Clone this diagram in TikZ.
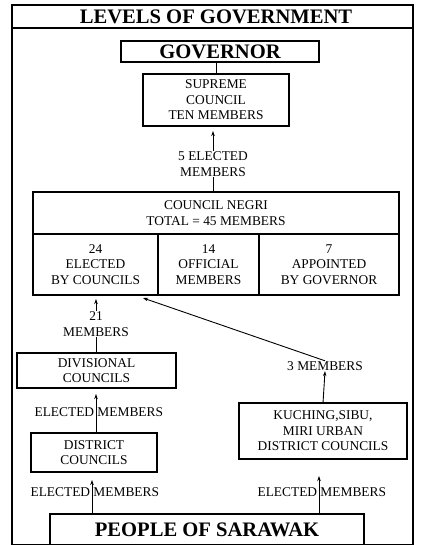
\documentclass[tikz,border=0pt]{standalone}
\usepackage{fontspec}
\setmainfont{Liberation Serif}
\usepackage{tikz}
\usetikzlibrary{arrows.meta,positioning}

\begin{document}
\begin{tikzpicture}[
    x=1pt,y=-1pt,
    >={Stealth[length=5pt,width=3.5pt]},
    every node/.style={font=\fontsize{13.4}{15.5}\selectfont},
    box/.style ={rectangle,draw,line width=1.1pt,inner sep=0pt,outer sep=0pt,align=center},
    head/.style={font=\fontsize{20.6}{24}\selectfont\bfseries},
    lab/.style ={inner sep=0.5pt,align=center},
    arr/.style ={->,line width=0.9pt},
    link/.style={line width=0.9pt}
  ]
  \useasboundingbox (0,0) rectangle (420,545);
  % outer frame and title strip
  \draw[line width=1.1pt] (12,5) rectangle (413,545);
  \draw[line width=1.1pt] (12,28) -- (413,28);
  \node[head] (title) at (216,17) {LEVELS OF GOVERNMENT};

  % top of the ladder
  \node[box,head,minimum width=198,minimum height=21] (gov) at (220,51.5) {GOVERNOR};
  \node[box,minimum width=146,minimum height=52] (supreme) at (216,100)
        {SUPREME\\COUNCIL\\TEN MEMBERS};
  \draw[link] (supreme.north) -- (supreme.north |- gov.south);
  \node[lab] (lab5) at (213,164) {5 ELECTED\\MEMBERS};
  \draw[arr,shorten >=5pt] (lab5.north) -- (supreme.south -| lab5.north);

  % council negri with its three seats groups
  \node[box,minimum width=366,minimum height=42] (negri) at (216,213)
        {COUNCIL NEGRI\\TOTAL = 45 MEMBERS};
  \node[box,minimum width=125,minimum height=61,anchor=north west] (c24) at (negri.south west)
        {24\\ELECTED\\BY COUNCILS};
  \node[box,minimum width=101,minimum height=61,anchor=north west] (c14) at (c24.north east)
        {14\\OFFICIAL\\MEMBERS};
  \node[box,minimum width=140,minimum height=61,anchor=north west] (c7) at (c14.north east)
        {7\\APPOINTED\\BY GOVERNOR};
  \draw[link] (negri.north -| lab5.south) -- (lab5.south);

  % councils feeding the elected seats
  \node[lab] (lab21) at (96,324) {21\\MEMBERS};
  \draw[arr,shorten >=4pt] (lab21.north) -- (c24.south -| lab21.north);
  \node[box,minimum width=159,minimum height=35] (div) at (96.5,370.5)
        {DIVISIONAL\\COUNCILS};
  \draw[link] (div.north -| lab21.south) -- (lab21.south);

  \node[lab] (lab3) at (325,366) {3 MEMBERS};
  \coordinate (in24) at (143,298);
  \draw[arr] (lab3.north) -- (in24);
  \node[box,minimum width=168,minimum height=56] (kuch) at (323,431)
        {KUCHING,SIBU,\\MIRI URBAN\\DISTRICT COUNCILS};
  \draw[arr] (kuch.north) -- (lab3.south);

  \node[box,minimum width=126,minimum height=39] (dist) at (94,452.5)
        {DISTRICT\\COUNCILS};
  \node[lab] (ed1) at (98.8,412) {ELECTED MEMBERS};
  \draw[arr,shorten >=6pt] (dist.north -| 96,0) -- (div.south -| 96,0);

  % the people at the bottom
  \node[box,head,minimum width=314,minimum height=31] (people) at (207,529.5) {PEOPLE OF SARAWAK};
  \node[lab] (ed2) at (94.8,492) {ELECTED MEMBERS};
  \node[lab] (ed3) at (321.8,492) {ELECTED MEMBERS};
  \draw[arr,shorten >=8pt] (people.north -| 92,0) -- (dist.south -| 92,0);
  \draw[arr,shorten >=17pt] (people.north -| 319,0) -- (kuch.south -| 319,0);
\end{tikzpicture}
\end{document}
